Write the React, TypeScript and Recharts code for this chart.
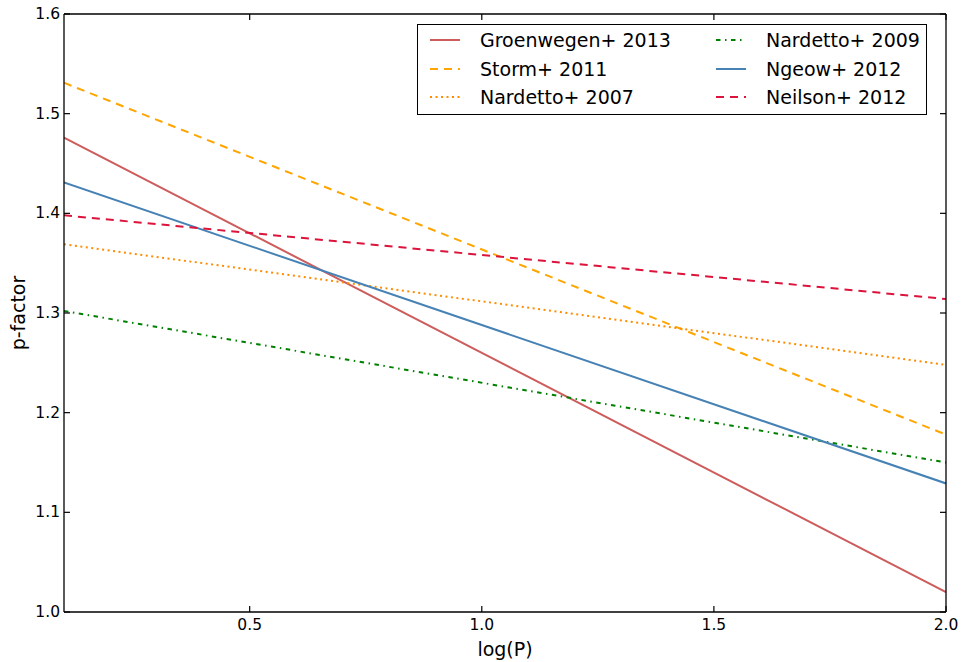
import { Legend, Line, LineChart, XAxis, YAxis } from 'recharts'

// log(P) end points of each relation
const logP = [0.1, 2.0]

const groenewegen2013 = [1.476, 1.02]
const storm2011 = [1.531, 1.178]
const nardetto2007 = [1.369, 1.248]
const nardetto2009 = [1.302, 1.15]
const ngeow2012 = [1.431, 1.129]
const neilson2012 = [1.398, 1.314]

const xTicks = [0.5, 1.0, 1.5, 2.0]
const yTicks = [1.0, 1.1, 1.2, 1.3, 1.4, 1.5, 1.6]

interface SeriesDef {
  key: string
  name: string
  values: number[]
  color: string
  dash?: string
}

const series: SeriesDef[] = [
  { key: 'groenewegen', name: 'Groenwegen+ 2013', values: groenewegen2013, color: '#cd5c5c' },
  { key: 'storm', name: 'Storm+ 2011', values: storm2011, color: '#ffa500', dash: '8 6' },
  { key: 'nardetto07', name: 'Nardetto+ 2007', values: nardetto2007, color: '#ff8c00', dash: '2 3.5' },
  { key: 'nardetto09', name: 'Nardetto+ 2009', values: nardetto2009, color: '#008000', dash: '4.5 4.5 1.5 4.5' },
  { key: 'ngeow', name: 'Ngeow+ 2012', values: ngeow2012, color: '#4682b4' },
  { key: 'neilson', name: 'Neilson+ 2012', values: neilson2012, color: '#dc143c', dash: '8 6' },
]

const rows = logP.map((x, i) => {
  const row: Record<string, number> = { logP: x }
  series.forEach((s) => {
    row[s.key] = s.values[i]
  })
  return row
})

const FONT = '"DejaVu Sans", sans-serif'
const TICK_LEN = 6
const frameLine = { stroke: '#000', strokeWidth: 1.3 }

const BottomTick = ({ x, y, payload }: any) => (
  <g>
    <line x1={x} x2={x} y1={y} y2={y - TICK_LEN} stroke="#000" strokeWidth={1.2} />
    <text x={x} y={y + 13} textAnchor="middle" dominantBaseline="central" fontSize={15.5} fontFamily={FONT} fill="#000">
      {Number(payload.value).toFixed(1)}
    </text>
  </g>
)

const TopTick = ({ x, y }: any) => (
  <line x1={x} x2={x} y1={y} y2={y + TICK_LEN} stroke="#000" strokeWidth={1.2} />
)

const LeftTick = ({ x, y, payload }: any) => (
  <g>
    <line x1={x} x2={x + TICK_LEN} y1={y} y2={y} stroke="#000" strokeWidth={1.2} />
    <text x={x - 4} y={y} textAnchor="end" dominantBaseline="central" fontSize={15.5} fontFamily={FONT} fill="#000">
      {Number(payload.value).toFixed(1)}
    </text>
  </g>
)

const RightTick = ({ x, y }: any) => (
  <line x1={x} x2={x - TICK_LEN} y1={y} y2={y} stroke="#000" strokeWidth={1.2} />
)

const LegendBox = () => (
  <div
    style={{
      position: 'absolute',
      left: 0,
      top: 0,
      width: 510,
      height: 91,
      boxSizing: 'border-box',
      border: '1.3px solid #000',
      background: '#fff',
      fontFamily: FONT,
      fontSize: 19,
      color: '#000',
    }}
  >
    {series.map((s, i) => {
      const col = Math.floor(i / 3)
      const row = i % 3
      const left = col === 0 ? 12 : 298
      const top = 15 + row * 28.5
      return (
        <div key={s.key} style={{ position: 'absolute', left, top: top - 12, height: 24, display: 'flex', alignItems: 'center' }}>
          <svg width={30} height={6} style={{ display: 'block' }}>
            <line x1={0} x2={30} y1={3} y2={3} stroke={s.color} strokeWidth={2} strokeDasharray={s.dash} />
          </svg>
          <span style={{ marginLeft: 20, whiteSpace: 'nowrap', lineHeight: '24px' }}>{s.name}</span>
        </div>
      )
    })}
  </div>
)

export default function App() {
  return (
    <div style={{ position: 'absolute', left: 0, top: 0, background: '#fff' }}>
      <LineChart width={962} height={662} data={rows} margin={{ top: 13, right: 15, bottom: 0, left: 0 }}>
        <XAxis
          dataKey="logP"
          type="number"
          domain={[0.1, 2.0]}
          ticks={xTicks}
          allowDataOverflow
          height={50}
          tickSize={0}
          tickMargin={0}
          tick={<BottomTick />}
          axisLine={frameLine}
          tickLine={false}
          label={{ value: 'log(P)', position: 'insideBottom', offset: 6, fontSize: 19, fontFamily: FONT, fill: '#000' }}
        />
        {/* mirror axes: top and right edges of the frame with inward ticks */}
        <XAxis
          xAxisId="top"
          orientation="top"
          dataKey="logP"
          type="number"
          domain={[0.1, 2.0]}
          ticks={xTicks}
          allowDataOverflow
          height={1}
          tickSize={0}
          tickMargin={0}
          tick={<TopTick />}
          axisLine={frameLine}
          tickLine={false}
        />
        <YAxis
          type="number"
          domain={[1.0, 1.6]}
          ticks={yTicks}
          allowDataOverflow
          width={64}
          tickSize={0}
          tickMargin={0}
          tick={<LeftTick />}
          axisLine={frameLine}
          tickLine={false}
          label={{ value: 'p-factor', angle: -90, position: 'insideLeft', offset: 18, fontSize: 19, fontFamily: FONT, fill: '#000', style: { textAnchor: 'middle' } }}
        />
        <YAxis
          yAxisId="right"
          orientation="right"
          type="number"
          domain={[1.0, 1.6]}
          ticks={yTicks}
          allowDataOverflow
          width={1}
          tickSize={0}
          tickMargin={0}
          tick={<RightTick />}
          axisLine={frameLine}
          tickLine={false}
        />
        <Legend
          content={<LegendBox />}
          wrapperStyle={{ position: 'absolute', left: 417, top: 24, width: 0, height: 0, overflow: 'visible' }}
        />
        {series.map((s) => (
          <Line
            key={s.key}
            dataKey={s.key}
            name={s.name}
            stroke={s.color}
            strokeWidth={2}
            strokeDasharray={s.dash}
            dot={false}
            activeDot={false}
            isAnimationActive={false}
          />
        ))}
      </LineChart>
    </div>
  )
}
